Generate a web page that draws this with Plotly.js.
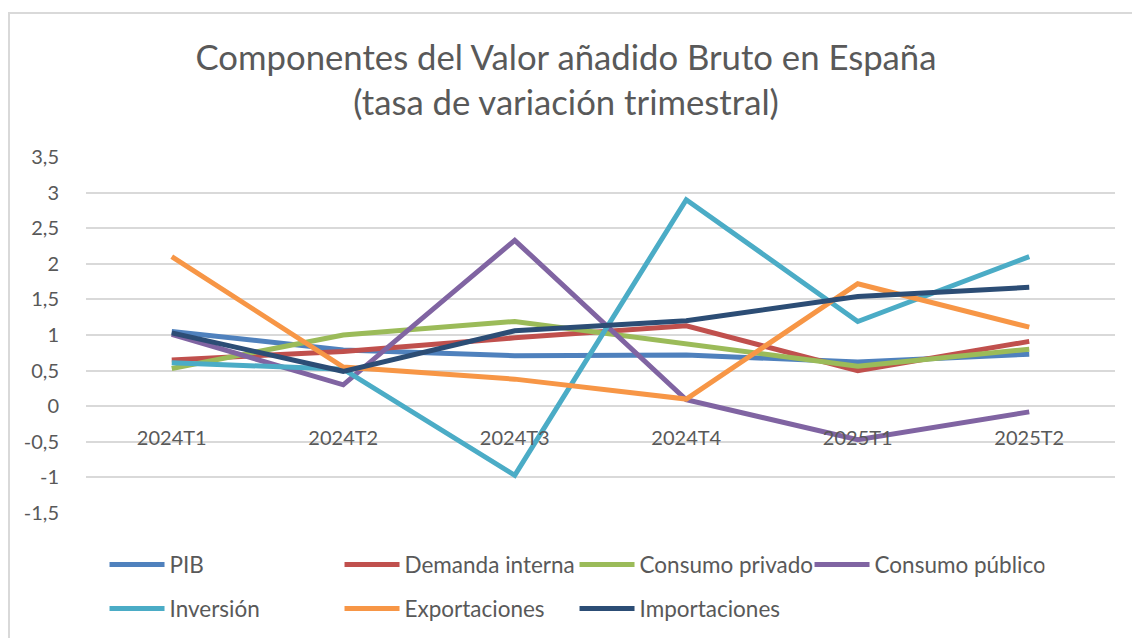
<!DOCTYPE html>
<html>
<head>
<meta charset="utf-8">
<script src="https://cdn.plot.ly/plotly-3.0.1.min.js"></script>
<style>
  html, body { margin: 0; padding: 0; background: #ffffff; overflow: hidden; }
  #chart { position: absolute; left: 0; top: 0; width: 1132px; height: 638px; }
  #frame { position: absolute; left: 8px; top: 12px; width: 1140px; height: 650px;
           border-left: 2px solid #D9D9D9; border-top: 2px solid #D9D9D9; pointer-events: none; }
</style>
</head>
<body>
<div id="chart"></div>
<div id="frame"></div>
<script>
const quarters = ["2024T1", "2024T2", "2024T3", "2024T4", "2025T1", "2025T2"];

const pib            = [1.05, 0.79, 0.71, 0.72, 0.62, 0.73];
const demandaInterna = [0.65, 0.77, 0.96, 1.13, 0.50, 0.91];
const consumoPrivado = [0.53, 1.00, 1.19, 0.88, 0.56, 0.80];
const consumoPublico = [1.01, 0.30, 2.33, 0.09, -0.47, -0.08];
const inversion      = [0.61, 0.52, -0.97, 2.90, 1.19, 2.10];
const exportaciones  = [2.10, 0.55, 0.38, 0.10, 1.72, 1.11];
const importaciones  = [1.03, 0.49, 1.06, 1.20, 1.54, 1.67];

const yTickVals = [-1.5, -1, -0.5, 0, 0.5, 1, 1.5, 2, 2.5, 3, 3.5];
const yTickText = ["-1,5", "-1", "-0,5", "0", "0,5", "1", "1,5", "2", "2,5", "3", "3,5"];

const seriesNames  = ["PIB", "Demanda interna", "Consumo privado", "Consumo público", "Inversión", "Exportaciones", "Importaciones"];
const seriesValues = [pib, demandaInterna, consumoPrivado, consumoPublico, inversion, exportaciones, importaciones];
const seriesColors = ["#4F81BD", "#C0504D", "#9BBB59", "#8064A2", "#4BACC6", "#F79646", "#2C4D75"];
const seriesLegend = ["legend", "legend", "legend", "legend", "legend2", "legend2", "legend2"];

const FONT = "Lato, 'Open Sans', sans-serif";
const GREY = "#595959";

const traces = seriesNames.map((name, i) => ({
  type: "scatter",
  mode: "lines",
  name: name,
  x: quarters,
  y: seriesValues[i],
  line: { color: seriesColors[i], width: 5 },
  legend: seriesLegend[i],
  hoverinfo: "x+y+name"
}));

const legendCommon = {
  orientation: "h",
  xanchor: "left",
  yanchor: "middle",
  x: 0.018,
  yref: "container",
  font: { family: FONT, size: 22.5, color: GREY },
  bgcolor: "rgba(0,0,0,0)",
  entrywidthmode: "pixels",
  entrywidth: 165,
  itemwidth: 55,
  traceorder: "normal"
};

const layout = {
  width: 1132,
  height: 638,
  paper_bgcolor: "#ffffff",
  plot_bgcolor: "#ffffff",
  margin: { l: 86, r: 17, t: 157, b: 125 },
  separators: ", ",
  title: {
    text: "Componentes del Valor añadido Bruto en España<br>(tasa de variación trimestral)",
    font: { family: FONT, size: 34.7, color: GREY },
    x: 0.5, xanchor: "center",
    y: 0.891, yanchor: "middle"
  },
  xaxis: {
    type: "category",
    range: [-0.5, 5.5],
    anchor: "free",
    position: 0.3,
    showgrid: false,
    showline: false,
    zeroline: false,
    ticks: "outside",
    ticklen: 14,
    tickcolor: "rgba(0,0,0,0)",
    tickfont: { family: FONT, size: 20, color: GREY },
    fixedrange: true
  },
  yaxis: {
    range: [-1.5, 3.5],
    tickvals: yTickVals,
    ticktext: yTickText,
    showgrid: true,
    gridcolor: "#D9D9D9",
    gridwidth: 1.5,
    zeroline: false,
    showline: false,
    ticks: "outside",
    ticklen: 22,
    tickcolor: "rgba(0,0,0,0)",
    tickfont: { family: FONT, size: 20, color: GREY },
    fixedrange: true
  },
  legend: Object.assign({}, legendCommon, { y: 0.1145 }),
  legend2: Object.assign({}, legendCommon, { y: 0.0455 }),
  showlegend: true
};

Plotly.newPlot("chart", traces, layout, { displayModeBar: false, staticPlot: false });
</script>
</body>
</html>
